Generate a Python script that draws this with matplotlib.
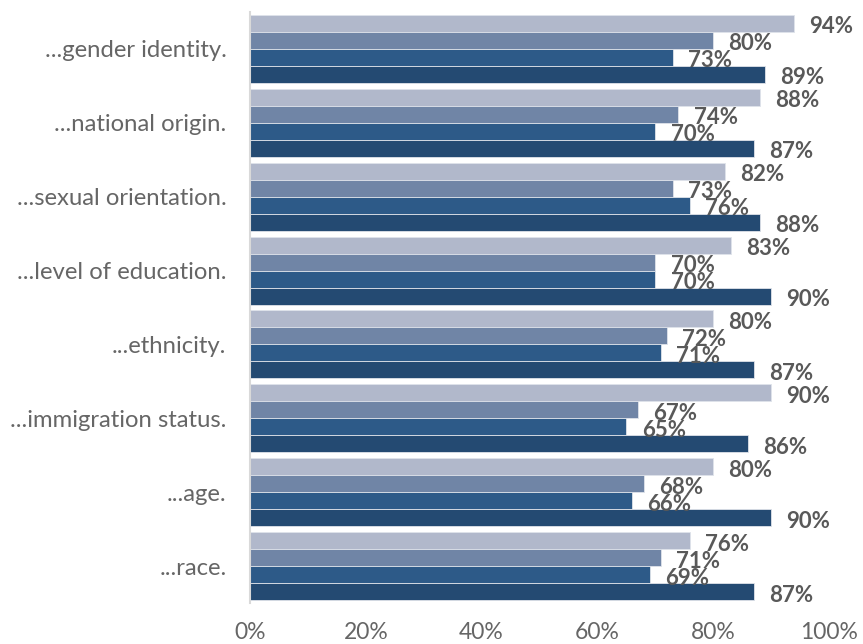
import numpy as np
import matplotlib.pyplot as plt

plt.rcParams['font.family'] = ['Lato', 'DejaVu Sans']

categories = ["...gender identity.", "...national origin.", "...sexual orientation.",
              "...level of education.", "...ethnicity.", "...immigration status.",
              "...age.", "...race."]

# four series, drawn top to bottom inside each group
series_a = [94, 88, 82, 83, 80, 90, 80, 76]
series_b = [80, 74, 73, 70, 72, 67, 68, 71]
series_c = [73, 70, 76, 70, 71, 65, 66, 69]
series_d = [89, 87, 88, 90, 87, 86, 90, 87]

colors = ['#b1b8cb', '#7085a6', '#2d5a88', '#244a72']
xticks = [0, 20, 40, 60, 80, 100]

fig = plt.figure(figsize=(8.63, 6.44), dpi=100)
ax = fig.add_axes([250/863, 1 - 603/644, 579/863, (603 - 12)/644])

y = np.arange(len(categories))
h = 0.23
offsets = [-1.5*h, -0.5*h, 0.5*h, 1.5*h]

for vals, off, c in zip([series_a, series_b, series_c, series_d], offsets, colors):
    ax.barh(y + off, vals, height=h, color=c, edgecolor='#dfe3ea', linewidth=0.6)
    for yi, v in zip(y, vals):
        ax.annotate(f"{v}%", (v, yi + off), xytext=(11, -2.5), textcoords='offset points',
                    ha='left', va='center', fontsize=16, fontweight='bold', color='#595959')

ax.set_ylim(7.5, -0.5)
ax.set_xlim(0, 100)
ax.set_yticks(y)
ax.set_yticklabels(categories, fontsize=17.2, color='#666666')
ax.set_xticks(xticks)
ax.set_xticklabels([f"{t}%" for t in xticks], fontsize=16.5, color='#666666')
ax.tick_params(axis='x', length=0, pad=14)
ax.tick_params(axis='y', length=0, pad=17)

for s in ['top', 'right', 'bottom']:
    ax.spines[s].set_visible(False)
ax.spines['left'].set_color('#d9d9d9')
ax.spines['left'].set_linewidth(1.5)

fig.savefig('out.png', dpi=100)
